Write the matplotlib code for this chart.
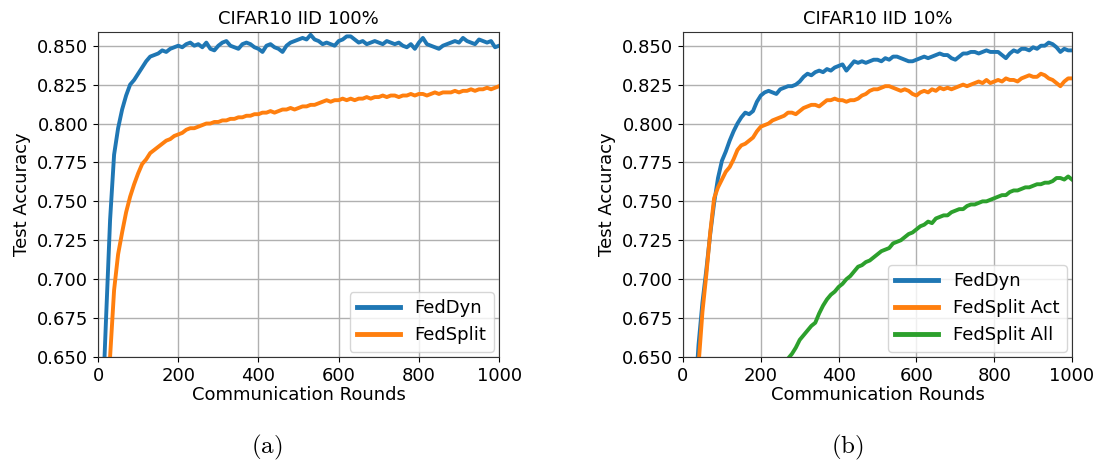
import numpy as np
import matplotlib
matplotlib.use("Agg")
import matplotlib.pyplot as plt
from matplotlib.ticker import FormatStrFormatter

plt.rcParams["mathtext.fontset"] = "cm"

# Communication rounds (every 10 rounds)
rounds = np.arange(0, 1001, 10)

# CIFAR10 IID, 100% participation
feddyn_100 = [
    0.350, 0.610, 0.675, 0.738, 0.780, 0.797, 0.809, 0.818, 0.825, 0.828,
    0.832, 0.836, 0.840, 0.843, 0.844, 0.845, 0.847, 0.846, 0.848, 0.849,
    0.850, 0.849, 0.851, 0.852, 0.850, 0.851, 0.849, 0.852, 0.848, 0.847,
    0.850, 0.852, 0.853, 0.850, 0.849, 0.848, 0.851, 0.852, 0.851, 0.849,
    0.848, 0.846, 0.850, 0.851, 0.849, 0.848, 0.846, 0.850, 0.852, 0.853,
    0.854, 0.855, 0.854, 0.857, 0.854, 0.853, 0.851, 0.852, 0.851, 0.850,
    0.853, 0.854, 0.856, 0.856, 0.854, 0.852, 0.853, 0.851, 0.852, 0.853,
    0.852, 0.851, 0.853, 0.852, 0.851, 0.852, 0.850, 0.849, 0.851, 0.848,
    0.852, 0.855, 0.851, 0.850, 0.849, 0.848, 0.850, 0.851, 0.852, 0.853,
    0.852, 0.855, 0.853, 0.852, 0.851, 0.854, 0.853, 0.852, 0.853, 0.849, 0.850,
]
fedsplit_100 = [
    0.250, 0.420, 0.570, 0.650, 0.693, 0.716, 0.730, 0.743, 0.753, 0.761,
    0.768, 0.774, 0.777, 0.781, 0.783, 0.785, 0.787, 0.789, 0.790, 0.792,
    0.793, 0.794, 0.796, 0.797, 0.797, 0.798, 0.799, 0.800, 0.800, 0.801,
    0.801, 0.802, 0.802, 0.803, 0.803, 0.804, 0.804, 0.805, 0.805, 0.806,
    0.806, 0.807, 0.807, 0.808, 0.807, 0.808, 0.809, 0.809, 0.810, 0.809,
    0.810, 0.811, 0.811, 0.812, 0.812, 0.813, 0.814, 0.815, 0.814, 0.815,
    0.815, 0.816, 0.815, 0.816, 0.815, 0.816, 0.816, 0.817, 0.816, 0.817,
    0.817, 0.818, 0.817, 0.818, 0.818, 0.817, 0.818, 0.818, 0.819, 0.818,
    0.819, 0.819, 0.818, 0.819, 0.820, 0.819, 0.820, 0.820, 0.820, 0.821,
    0.820, 0.821, 0.821, 0.822, 0.821, 0.822, 0.822, 0.823, 0.822, 0.823, 0.824,
]

# CIFAR10 IID, 10% participation
feddyn_10 = [
    0.200, 0.350, 0.500, 0.620, 0.658, 0.685, 0.706, 0.729, 0.749, 0.765,
    0.776, 0.782, 0.789, 0.795, 0.800, 0.804, 0.807, 0.806, 0.808, 0.814,
    0.818, 0.820, 0.821, 0.820, 0.819, 0.822, 0.823, 0.824, 0.824, 0.825,
    0.827, 0.830, 0.832, 0.831, 0.833, 0.834, 0.833, 0.835, 0.834, 0.836,
    0.837, 0.838, 0.834, 0.837, 0.840, 0.839, 0.840, 0.839, 0.840, 0.841,
    0.841, 0.840, 0.842, 0.841, 0.843, 0.843, 0.842, 0.841, 0.840, 0.840,
    0.841, 0.842, 0.843, 0.842, 0.843, 0.844, 0.845, 0.844, 0.844, 0.842,
    0.841, 0.843, 0.845, 0.845, 0.846, 0.846, 0.845, 0.846, 0.847, 0.846,
    0.846, 0.846, 0.844, 0.842, 0.845, 0.847, 0.846, 0.848, 0.848, 0.847,
    0.849, 0.848, 0.850, 0.850, 0.852, 0.851, 0.849, 0.846, 0.848, 0.847, 0.847,
]
fedsplit_act_10 = [
    0.150, 0.300, 0.450, 0.570, 0.645, 0.679, 0.703, 0.730, 0.752, 0.759,
    0.764, 0.769, 0.772, 0.777, 0.783, 0.786, 0.787, 0.789, 0.791, 0.795,
    0.798, 0.799, 0.800, 0.802, 0.803, 0.804, 0.805, 0.807, 0.807, 0.806,
    0.808, 0.810, 0.811, 0.812, 0.812, 0.811, 0.813, 0.815, 0.815, 0.816,
    0.815, 0.815, 0.814, 0.815, 0.815, 0.816, 0.818, 0.819, 0.821, 0.822,
    0.822, 0.823, 0.824, 0.824, 0.823, 0.822, 0.821, 0.822, 0.821, 0.819,
    0.818, 0.820, 0.821, 0.820, 0.822, 0.821, 0.823, 0.822, 0.823, 0.822,
    0.823, 0.824, 0.825, 0.824, 0.825, 0.826, 0.827, 0.826, 0.828, 0.826,
    0.827, 0.828, 0.827, 0.829, 0.828, 0.828, 0.827, 0.829, 0.830, 0.831,
    0.830, 0.830, 0.832, 0.831, 0.829, 0.828, 0.826, 0.824, 0.827, 0.829, 0.829,
]
fedsplit_all_10 = [
    0.100, 0.200, 0.260, 0.310, 0.350, 0.380, 0.410, 0.430, 0.450, 0.470,
    0.490, 0.505, 0.520, 0.535, 0.548, 0.560, 0.571, 0.582, 0.592, 0.601,
    0.610, 0.618, 0.625, 0.632, 0.638, 0.642, 0.646, 0.649, 0.652, 0.656,
    0.661, 0.664, 0.667, 0.670, 0.672, 0.678, 0.683, 0.687, 0.690, 0.692,
    0.695, 0.697, 0.700, 0.702, 0.705, 0.708, 0.709, 0.711, 0.712, 0.714,
    0.716, 0.718, 0.719, 0.720, 0.723, 0.724, 0.725, 0.727, 0.729, 0.730,
    0.732, 0.734, 0.735, 0.737, 0.736, 0.739, 0.740, 0.741, 0.741, 0.743,
    0.744, 0.745, 0.745, 0.747, 0.748, 0.748, 0.749, 0.750, 0.750, 0.751,
    0.752, 0.753, 0.754, 0.754, 0.756, 0.757, 0.757, 0.758, 0.759, 0.759,
    0.760, 0.761, 0.761, 0.762, 0.762, 0.763, 0.765, 0.765, 0.764, 0.766, 0.764,
]

yticks = [0.650, 0.675, 0.700, 0.725, 0.750, 0.775, 0.800, 0.825, 0.850]
xticks = [0, 200, 400, 600, 800, 1000]

C_BLUE, C_ORANGE, C_GREEN = "#1f77b4", "#ff7f0e", "#2ca02c"
FS = 13
LW = 2.8

fig = plt.figure(figsize=(11.18, 4.66), dpi=100)
ax1 = fig.add_axes([0.0877, 0.2339, 0.3587, 0.6974])
ax2 = fig.add_axes([0.6109, 0.2339, 0.3480, 0.6974])

ax1.plot(rounds, feddyn_100, color=C_BLUE, lw=LW, label="FedDyn")
ax1.plot(rounds, fedsplit_100, color=C_ORANGE, lw=LW, label="FedSplit")
ax1.set_title("CIFAR10 IID 100%", fontsize=FS)

ax2.plot(rounds, feddyn_10, color=C_BLUE, lw=LW, label="FedDyn")
ax2.plot(rounds, fedsplit_act_10, color=C_ORANGE, lw=LW, label="FedSplit Act")
ax2.plot(rounds, fedsplit_all_10, color=C_GREEN, lw=LW, label="FedSplit All")
ax2.set_title("CIFAR10 IID 10%", fontsize=FS)

for ax in (ax1, ax2):
    ax.set_xlim(0, 1000)
    ax.set_ylim(0.65, 0.8588)
    ax.set_xticks(xticks)
    ax.set_yticks(yticks)
    ax.yaxis.set_major_formatter(FormatStrFormatter("%.3f"))
    ax.tick_params(labelsize=FS)
    ax.grid(True, color="#b0b0b0", lw=1.0)
    ax.set_axisbelow(True)
    ax.set_xlabel("Communication Rounds", fontsize=FS, labelpad=1)
    ax.set_ylabel("Test Accuracy", fontsize=FS, labelpad=4)
    for s in ax.spines.values():
        s.set_color("#333333")
    leg = ax.legend(loc="lower right", fontsize=FS, handlelength=2.4,
                    borderaxespad=0.3)
    for h in leg.get_lines():
        h.set_linewidth(3.5)

fig.text(0.239, 0.04, r"$\mathrm{(a)}$", ha="center", va="center", fontsize=18)
fig.text(0.758, 0.04, r"$\mathrm{(b)}$", ha="center", va="center", fontsize=18)

fig.savefig("out.png", dpi=100)
